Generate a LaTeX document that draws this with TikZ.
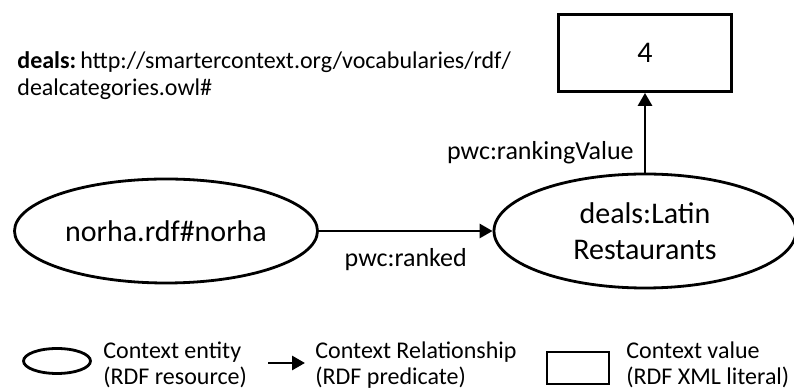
\documentclass[tikz,border=0pt]{standalone}
\usepackage{fontspec}
\setmainfont{Carlito}
\usetikzlibrary{shapes.geometric, arrows.meta, positioning}

\begin{document}
\begin{tikzpicture}[
    x=0.5pt, y=-0.5pt,
    >={Triangle[length=6.5pt, width=7pt]},
    entity/.style={ellipse, draw=black, line width=1.4pt, fill=white, inner sep=0pt, align=center, font=\fontsize{15}{18}\selectfont},
    literal/.style={rectangle, draw=black, line width=1.4pt, fill=white, align=center, font=\fontsize{15}{18}\selectfont},
    arrow/.style={->, line width=1.4pt, draw=black},
    predlabel/.style={font=\fontsize{13}{15}\selectfont, inner sep=2pt},
    legendtext/.style={anchor=west, align=left, inner sep=0pt, font=\fontsize{12}{13}\selectfont}
]
\useasboundingbox (0,0) rectangle (794,389);

% Namespace note
\node[anchor=west, align=left, inner sep=0pt, font=\fontsize{12}{13.5}\selectfont] (ns) at (17,76)
    {\textbf{deals:}\,http://smartercontext.org/vocabularies/rdf/\\dealcategories.owl\#};

% Resources and value
\node[entity, minimum width=151.5pt, minimum height=52pt] (norha) at (166,231) {norha.rdf\#norha};
\node[entity, minimum width=151pt, minimum height=57pt] (latin) at (645,231) {deals:Latin\\Restaurants};
\node[literal, minimum width=86.5pt, minimum height=38.5pt] (value) at (645,53) {4};

% Predicates
\draw[arrow] (norha.east) -- (latin.west) node[midway, below=6pt, predlabel] (ranked) {pwc:ranked};
\draw[arrow] (latin.north) -- (value.south) node[pos=0.25, left=3pt, predlabel] (rankval) {pwc:rankingValue};

% ==================== Legend ====================
\node[entity, minimum width=33.5pt, minimum height=12.5pt] (legEntity) at (57,361) {};
\node[legendtext] (legEntityText) at (103,365) {Context entity\\(RDF resource)};

\coordinate (legArrowA) at (268,363);
\coordinate (legArrowB) at (305,363);
\draw[arrow] (legArrowA) -- (legArrowB);
\node[legendtext] (legPredText) at (315,365) {Context Relationship\\(RDF predicate)};

\node[literal, minimum width=31pt, minimum height=16pt, inner sep=0pt] (legValue) at (578,368) {};
\node[legendtext] (legValueText) at (626,365) {Context value\\(RDF XML literal)};

\end{tikzpicture}
\end{document}
